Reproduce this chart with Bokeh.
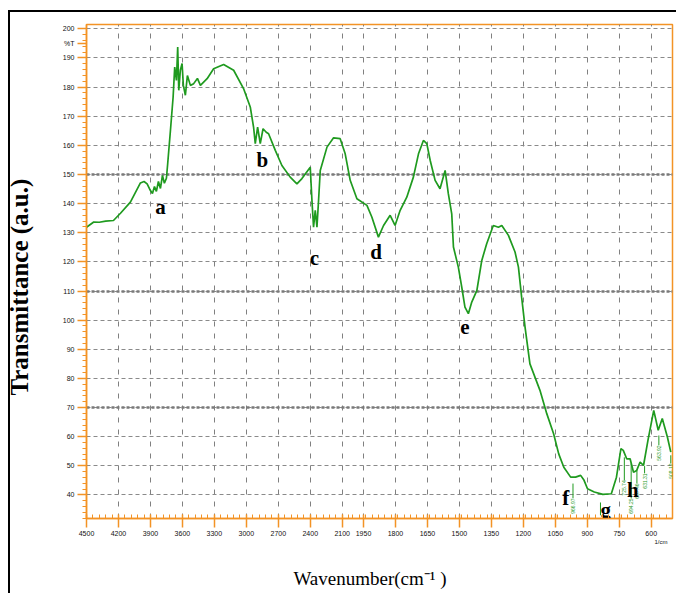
import numpy as np
from bokeh.plotting import figure
from bokeh.models import FixedTicker, Grid, Range1d, CustomJSTickFormatter, LinearAxis
from bokeh.core.properties import value
from bokeh.embed import file_html
from bokeh.resources import INLINE

# ---- data ----
wavenumber = [4500, 4432, 4380, 4320, 4247, 4181, 4088, 3994, 3960, 3931, 3900, 3881, 3862, 3844,
              3825, 3806, 3787, 3769, 3750, 3738, 3712, 3687, 3672, 3656, 3644, 3634, 3619, 3603,
              3591, 3572, 3553, 3525, 3494, 3459, 3431, 3368, 3307, 3213, 3119, 3026, 2963, 2932,
              2916, 2894, 2869, 2843, 2813, 2791, 2728, 2666, 2588, 2525, 2478, 2400, 2384, 2369,
              2353, 2337, 2322, 2306, 2243, 2181, 2119, 2072, 2025, 1981, 1934, 1911, 1880, 1856,
              1825, 1802, 1778, 1747, 1716, 1692, 1669, 1653, 1637, 1614, 1591, 1567, 1552, 1536,
              1528, 1505, 1489, 1474, 1458, 1442, 1418, 1395, 1372, 1341, 1317, 1301, 1270, 1239,
              1223, 1208, 1192, 1169, 1122, 1090, 1058, 1034, 1010, 978, 955, 931, 915, 899, 867,
              827, 787, 763, 742, 731, 715, 699, 683, 668, 652, 636, 615, 588, 567, 548, 524, 508]
transmittance = [131.9, 133.7, 133.6, 134.0, 134.2, 136.7, 140.5, 147.1, 147.6, 146.8, 144.5, 143.5,
                 145.9, 144.2, 147.6, 145.2, 149.7, 147.0, 148.7, 153.7, 165.2, 176.6, 186.9, 182.3,
                 193.8, 178.9, 185.8, 188.1, 180.6, 177.2, 184.0, 180.6, 181.2, 183.0, 180.6, 182.9,
                 186.3, 187.8, 185.8, 179.5, 173.2, 166.3, 160.6, 166.3, 160.6, 165.7, 164.5, 164.0,
                 158.3, 153.1, 149.1, 146.8, 148.6, 152.5, 141.1, 131.9, 137.7, 131.9, 141.1, 151.4,
                 159.4, 162.6, 162.3, 157.1, 148.0, 141.7, 139.4, 135.4, 128.5, 132.5, 136.0, 132.5,
                 137.7, 142.2, 149.1, 157.1, 161.7, 160.6, 154.8, 148.0, 145.1, 151.4, 143.4, 136.5,
                 125.1, 118.2, 111.3, 104.5, 102.2, 106.2, 110.2, 120.5, 126.2, 132.5, 131.9, 132.5,
                 129.1, 123.4, 118.2, 107.9, 97.6, 85.0, 75.9, 67.9, 61.0, 54.1, 49.5, 46.1, 46.1,
                 46.7, 45.0, 42.1, 41.0, 40.2, 40.4, 46.1, 55.9, 55.3, 52.4, 52.4, 47.8, 48.4, 51.3,
                 50.1, 58.8, 69.0, 62.2, 66.2, 59.9, 54.7]

x_tick_labels = [4500, 4200, 3900, 3600, 3300, 3000, 2700, 2400, 2100, 1950, 1800, 1650,
                 1500, 1350, 1200, 1050, 900, 750, 600]
y_ticks = [40, 50, 60, 70, 80, 90, 100, 110, 120, 130, 140, 150, 160, 170, 180, 190, 200]
y_bold = [150, 110, 70]
y_unit_pos = 195          # where the "%T" mark sits on the y axis
x_unit_pos = 554          # where the "1/cm" mark sits under the x axis

band_letters = ["a", "b", "c", "d", "e", "f", "g", "h"]
band_wn = [3806, 2850, 2362, 1891, 1474, 1001, 813, 686]
band_T = [138.7, 154.9, 121.2, 123.3, 97.5, 39.1, 34.7, 41.6]

peak_wn = [967, 838, 726, 694, 667, 631, 564, 508]
peak_top = [43.9, 37.4, 52.9, 50.8, 48.4, 49.9, 60.4, 53.6]
peak_bot = [38.8, 33.0, 45.0, 38.8, 43.9, 47.4, 57.0, 50.8]
peak_text = ["966.97", "", "725.74", "694.25", "667.46", "631.31", "563.92", "508.12"]

WN_MAX, WN_BREAK, WN_MIN = 4500, 2000, 500


def to_u(w):
    """Shimadzu-style split scale: 4500-2000 compressed, 2000-500 expanded x2."""
    w = np.asarray(w, dtype=float)
    return np.where(w >= WN_BREAK, (WN_MAX - w) / 300.0,
                    (WN_MAX - WN_BREAK) / 300.0 + (WN_BREAK - w) / 150.0)


orange = "#f39325"
green = "#1f9a1f"

p = figure(width=676, height=593, output_backend="svg", toolbar_location=None,
           x_range=Range1d(0, float(to_u(WN_MIN))), y_range=Range1d(31.9, 201.5),
           min_border_left=86, min_border_right=4, min_border_top=24, min_border_bottom=75,
           background_fill_color="white", border_fill_color=None)
# black page frame lines (top and left) painted behind the transparent canvas border
p.styles = {
    "background-color": "white",
    "background-image": "linear-gradient(#000, #000), linear-gradient(#000, #000)",
    "background-size": "2px 583px, 668px 2px",
    "background-position": "8px 10px, 8px 10px",
    "background-repeat": "no-repeat",
}

p.outline_line_color = orange
p.outline_line_width = 1.5

# x axis ticks
x_major = [float(v) for v in to_u(x_tick_labels)]
x_minor = sorted(set([float(v) for v in to_u(list(range(4500, 2000, -60)))] +
                     [float(v) for v in to_u(list(range(2000, 499, -30)))]))
p.xaxis.ticker = FixedTicker(ticks=x_major, minor_ticks=x_minor)
p.xaxis.formatter = CustomJSTickFormatter(code="""
    const w = tick <= 2500/300 ? 4500 - 300*tick : 2000 - 150*(tick - 2500/300);
    return Math.round(w).toString();
""")
p.yaxis.ticker = FixedTicker(ticks=y_ticks + [y_unit_pos], minor_ticks=list(range(32, 202, 2)))
p.yaxis.formatter = CustomJSTickFormatter(code="""
    return tick == %d ? "%%T" : tick.toString();
""" % y_unit_pos)

for ax in (p.xaxis[0], p.yaxis[0]):
    ax.axis_line_color = orange
    ax.axis_line_width = 1.5
    ax.major_tick_line_color = orange
    ax.minor_tick_line_color = orange
    ax.major_tick_line_width = 1.5
    ax.major_label_text_font = "Liberation Sans"
    ax.major_label_text_font_size = "7px"
    ax.major_label_text_color = "#111111"

p.xaxis.major_tick_in = 4
p.xaxis.major_tick_out = 9
p.xaxis.minor_tick_in = 4
p.xaxis.minor_tick_out = 0
p.xaxis.major_label_standoff = 3

p.yaxis.major_tick_in = 0
p.yaxis.major_tick_out = 9
p.yaxis.minor_tick_in = 0
p.yaxis.minor_tick_out = 4
p.yaxis.major_label_standoff = 3
p.yaxis.axis_label = "Transmittance (a.u.)" + "\u00a0" * 5
p.yaxis.axis_label_text_font = "Liberation Serif"
p.yaxis.axis_label_text_font_style = "bold"
p.yaxis.axis_label_text_font_size = "25px"
p.yaxis.axis_label_text_color = "black"
p.yaxis.axis_label_standoff = 27

# secondary axis below: unit mark "1/cm" and the axis title
unit_axis = LinearAxis(ticker=FixedTicker(ticks=[float(to_u(x_unit_pos))], minor_ticks=[]),
                       formatter=CustomJSTickFormatter(code='return "1/cm";'),
                       axis_line_color=None, major_tick_line_color=None,
                       minor_tick_line_color=None, major_tick_in=0, major_tick_out=0,
                       major_label_standoff=0,
                       major_label_text_font="Liberation Sans",
                       major_label_text_font_size="6px", major_label_text_color="#111111",
                       axis_label="Wavenumber(cm\u207b\u00b9 )" + "\u00a0" * 4,
                       axis_label_text_font="Liberation Serif",
                       axis_label_text_font_style="normal",
                       axis_label_text_font_size="19px", axis_label_text_color="black",
                       axis_label_standoff=20)
p.add_layout(unit_axis, "below")

p.xgrid.ticker = FixedTicker(ticks=x_major)
p.xgrid.grid_line_color = "#808080"
p.xgrid.grid_line_dash = "5 7"
p.xgrid.grid_line_width = 1
p.ygrid.ticker = FixedTicker(ticks=y_ticks)
p.ygrid.grid_line_color = "#8a8a8a"
p.ygrid.grid_line_dash = "4 3"
p.ygrid.grid_line_width = 1

bold_grid = Grid(dimension=1, ticker=FixedTicker(ticks=y_bold),
                 grid_line_color="#7a7a7a", grid_line_width=2.5, grid_line_dash="3 2")
p.add_layout(bold_grid)

# spectrum
p.line(x=to_u(wavenumber), y=transmittance, line_color=green, line_width=1.7)

# peak markers
p.segment(x0=to_u(peak_wn), y0=peak_top, x1=to_u(peak_wn), y1=peak_bot,
          line_color=green, line_width=1)
p.text(x=to_u(peak_wn), y=peak_bot, text=peak_text, angle=np.pi / 2,
       text_align="right", text_baseline="middle", text_font=value("Liberation Sans"),
       text_font_size="5px", text_color=green)

# band letters
p.text(x=to_u(band_wn), y=band_T, text=band_letters, text_align="center",
       text_baseline="middle", text_font=value("Liberation Serif"),
       text_font_style="bold", text_font_size="21px", text_color="black")

open("out.html", "w").write(file_html(p, INLINE))
